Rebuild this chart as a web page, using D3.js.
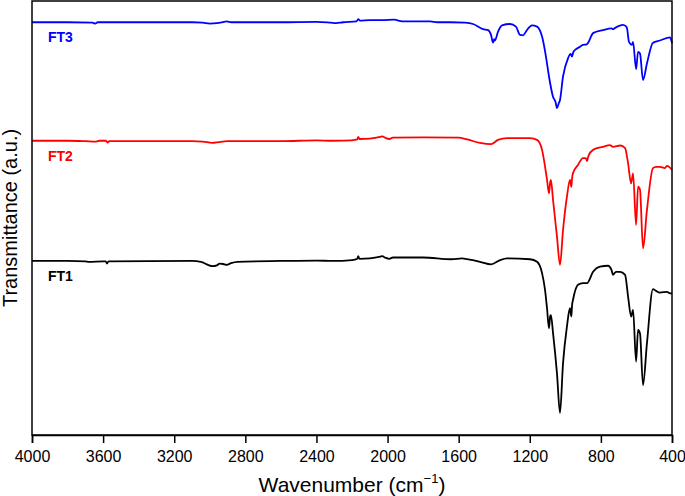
<!DOCTYPE html>
<html>
<head>
<meta charset="utf-8">
<script src="https://cdn.jsdelivr.net/npm/d3@7"></script>
<style>
  body { margin: 0; background: #fff; }
  svg { display: block; font-family: "Liberation Sans", Arial, sans-serif; }
</style>
</head>
<body>
<svg id="chart" width="685" height="496"></svg>
<script>
// FTIR spectra, [wavenumber, transmittance a.u.]
var ft3 = [
  [4000, 95.1], [3800, 95.1], [3660, 95.0], [3645, 94.8], [3630, 95.1], [3100, 95.1], [3040, 95.0],
  [3000, 94.8], [2960, 94.9], [2930, 95.1], [2905, 95.3], [2880, 95.1], [2600, 95.1], [2400, 95.2],
  [2320, 95.0], [2290, 94.9], [2250, 95.1], [2175, 95.3], [2165, 95.8], [2155, 95.5], [2100, 95.6],
  [2030, 95.6], [1960, 95.7], [1940, 95.5], [1900, 95.3], [1760, 95.3], [1720, 95.1], [1650, 95.1],
  [1564, 95.0], [1519, 94.7], [1463, 93.5], [1435, 93.3], [1418, 92.2], [1407, 90.4], [1400, 91.2],
  [1396, 90.9], [1379, 92.9], [1356, 94.4], [1311, 94.7], [1278, 94.1], [1255, 92.2], [1238, 92.1],
  [1216, 93.3], [1188, 94.4], [1159, 94.1], [1131, 91.8], [1109, 87.2], [1092, 82.6], [1069, 77.9],
  [1055, 76.7], [1047, 75.3], [1038, 76.3], [1030, 77.2], [1013, 82.6], [985, 86.8], [970, 87.8],
  [963, 87.2], [955, 88.2], [946, 88.7], [920, 89.4], [901, 89.9], [880, 90.0], [873, 90.3],
  [844, 92.6], [788, 93.3], [740, 93.7], [732, 93.5], [720, 93.8], [676, 94.5], [660, 94.2],
  [653, 93.7], [642, 90.6], [625, 89.9], [619, 90.6], [602, 84.3], [591, 88.3], [580, 87.9],
  [563, 81.8], [541, 85.6], [507, 90.4], [468, 90.9], [411, 91.6], [400, 90.3]
];
var ft2 = [
  [4000, 67.8], [3800, 67.8], [3700, 67.7], [3640, 67.6], [3620, 67.8], [3585, 67.8], [3575, 67.4],
  [3565, 67.7], [3100, 67.7], [3040, 67.6], [2985, 67.3], [2950, 67.5], [2900, 67.7], [2600, 67.7],
  [2400, 67.9], [2310, 67.8], [2200, 67.9], [2170, 68.1], [2165, 68.7], [2158, 68.2], [2100, 68.3],
  [2040, 68.7], [2030, 68.8], [2010, 68.4], [1990, 68.2], [1970, 68.5], [1800, 68.6], [1600, 68.5],
  [1553, 68.1], [1480, 67.3], [1418, 67.0], [1379, 68.0], [1328, 68.4], [1199, 68.4], [1159, 68.0],
  [1131, 65.7], [1114, 61.8], [1103, 58.8], [1092, 55.7], [1085, 58.3], [1081, 58.8], [1069, 54.1],
  [1047, 45.7], [1030, 39.2], [1013, 47.2], [991, 54.9], [974, 58.8], [966, 57.2], [962, 59.2],
  [957, 60.3], [929, 62.2], [901, 63.8], [885, 63.8], [878, 63.1], [870, 64.3], [844, 65.7],
  [788, 66.4], [749, 66.8], [732, 66.4], [690, 66.7], [664, 66.1], [647, 62.6], [630, 58.0],
  [619, 60.3], [602, 48.4], [591, 57.2], [580, 56.5], [563, 43.0], [541, 51.8], [507, 61.5],
  [490, 61.8], [468, 61.8], [440, 61.5], [428, 62.0], [400, 61.1]
];
var ft1 = [
  [4000, 40.1], [3800, 40.1], [3700, 40.0], [3680, 39.9], [3600, 40.0], [3585, 40.0], [3578, 39.5],
  [3570, 40.0], [3100, 40.1], [3050, 39.9], [3010, 39.2], [2985, 38.9], [2960, 39.1], [2945, 39.5],
  [2925, 39.4], [2905, 39.2], [2880, 39.6], [2845, 39.9], [2600, 40.1], [2400, 40.2], [2310, 40.1],
  [2200, 40.3], [2170, 40.6], [2165, 41.2], [2158, 40.6], [2100, 40.7], [2040, 41.1], [2030, 41.2],
  [2010, 40.8], [1990, 40.6], [1970, 40.9], [1800, 40.9], [1640, 40.5], [1580, 40.7], [1553, 40.5],
  [1480, 39.9], [1418, 39.3], [1367, 40.3], [1328, 40.7], [1199, 40.5], [1159, 39.9], [1131, 37.3],
  [1114, 33.4], [1103, 29.2], [1092, 24.6], [1085, 27.4], [1081, 27.6], [1069, 23.4], [1047, 14.2],
  [1030, 5.1], [1013, 16.5], [991, 25.0], [974, 29.2], [966, 27.3], [962, 30.0], [957, 31.1],
  [929, 34.6], [901, 35.0], [878, 35.0], [844, 37.6], [805, 38.8], [760, 39.0], [740, 38.0],
  [732, 36.9], [715, 37.6], [692, 37.6], [664, 36.9], [647, 31.9], [630, 27.3], [619, 28.8],
  [602, 16.9], [591, 24.2], [580, 23.4], [563, 11.5], [541, 21.1], [507, 33.6], [490, 33.2],
  [468, 32.8], [428, 33.0], [415, 32.7], [400, 32.6]
];
var seriesNames = ["FT1", "FT2", "FT3"];
var seriesColors = ["#000000", "#ff0000", "#0000ff"];
var xTicks = [4000, 3600, 3200, 2800, 2400, 2000, 1600, 1200, 800, 400];

var svg = d3.select("#chart");
var margin = {top: 1, right: 13, bottom: 61, left: 32};
var width = +svg.attr("width") - margin.left - margin.right;
var height = +svg.attr("height") - margin.top - margin.bottom;

var x = d3.scaleLinear().domain([4000, 400]).range([0, width]);
var y = d3.scaleLinear().domain([0, 100]).range([height, 0]);

var g = svg.append("g")
    .attr("transform", "translate(" + margin.left + "," + margin.top + ")");

var line = d3.line()
    .x(function(d) { return x(d[0]); })
    .y(function(d) { return y(d[1]); })
    .curve(d3.curveMonotoneX);

var spectra = [ft1, ft2, ft3];
spectra.forEach(function(s, i) {
  g.append("path")
      .datum(s)
      .attr("fill", "none")
      .attr("stroke", seriesColors[i])
      .attr("stroke-width", 1.8)
      .attr("stroke-linejoin", "round")
      .attr("d", line);

  g.append("text")
      .attr("x", x(3910))
      .attr("y", y(s[0][1]) + 20)
      .attr("fill", seriesColors[i])
      .attr("font-size", 14)
      .attr("font-weight", "bold")
      .text(seriesNames[i]);
});

// frame
g.append("rect")
    .attr("width", width)
    .attr("height", height)
    .attr("fill", "none")
    .attr("stroke", "#000")
    .attr("stroke-width", 1.5);

var xAxis = g.append("g")
    .attr("transform", "translate(0," + height + ")")
    .call(d3.axisBottom(x).tickValues(xTicks).tickSize(8).tickPadding(8).tickFormat(d3.format("d")));
xAxis.select(".domain").attr("stroke-width", 1.5);
xAxis.selectAll(".tick line").attr("stroke-width", 1.5);
xAxis.selectAll("text").attr("font-size", 16).attr("font-family", "Liberation Sans, Arial, sans-serif").attr("fill", "#000");

var xt = svg.append("text")
    .attr("x", margin.left + width / 2)
    .attr("y", 492)
    .attr("text-anchor", "middle")
    .attr("font-size", 21);
xt.append("tspan").text("Wavenumber (cm");
xt.append("tspan").attr("font-size", 13).attr("dy", -9).text("\u22121");
xt.append("tspan").attr("dy", 9).text(")");

svg.append("text")
    .attr("transform", "translate(17," + (margin.top + height / 2) + ") rotate(-90)")
    .attr("text-anchor", "middle")
    .attr("font-size", 20)
    .text("Transmittance (a.u.)");
</script>
</body>
</html>
